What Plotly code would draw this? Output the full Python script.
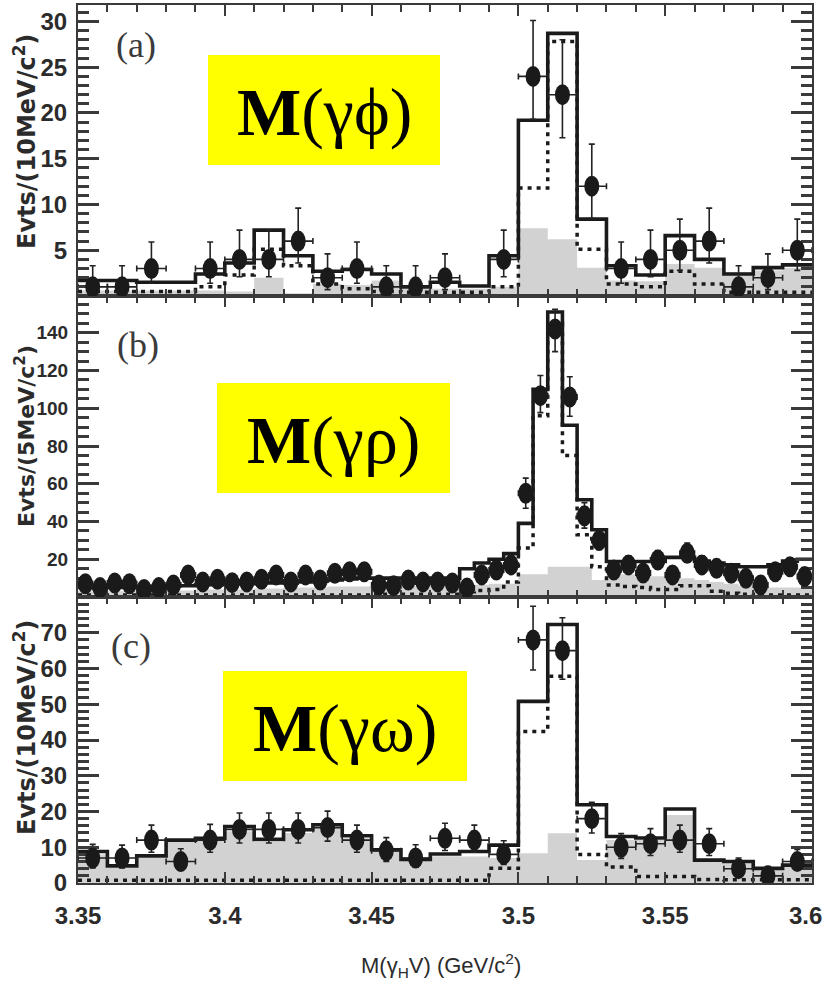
import numpy as np
import plotly.graph_objects as go

# ---------------- data ----------------
M_LO, M_HI = 3.35, 3.60

# (a) M(gamma phi), 10 MeV/c^2 bins
phi_data = [1, 1, 3, None, 3, 4, 4, 6, 2, 3, 1, 1, 2, None, 4, 24, 22, 12, 3, 4, 5, 6, 1, 2, 5]
phi_err_up = [2.3, 2.3, 2.9, None, 2.9, 3.2, 3.2, 3.6, 2.6, 2.9, 2.3, 2.3, 2.6, None, 3.2, 6.1, 6.0, 4.6, 2.9, 3.2, 3.4, 3.6, 2.3, 2.6, 3.4]
phi_err_dn = [0.8, 0.8, 1.6, None, 1.6, 1.9, 1.9, 2.4, 1.3, 1.6, 0.8, 0.8, 1.3, None, 1.9, 4.7, 4.7, 3.5, 1.6, 1.9, 2.2, 2.4, 0.8, 1.3, 2.2]
phi_total = [1.7, 1.7, 1.5, 1.5, 2.4, 3.6, 7.2, 4.4, 2.7, 2.9, 2.4, 1.0, 1.5, 1.1, 4.4, 19.2, 28.7, 8.4, 3.3, 2.3, 6.6, 4.0, 2.4, 3.1, 3.4]
phi_signal = [0.5, 0.5, 0.5, 0.5, 1.0, 2.3, 5.1, 3.3, 1.3, 0.8, 0.5, 0.4, 0.4, 0.4, 1.0, 11.8, 27.8, 5.1, 1.3, 1.0, 2.7, 1.3, 0.4, 0.4, 0.4]
phi_bkg = [0.6, 0.6, 0.6, 0.6, 0.6, 0.5, 2.0, 0.3, 1.3, 1.2, 1.7, 0.8, 0.8, 0.8, 1.0, 7.4, 6.2, 3.1, 1.7, 1.6, 3.5, 3.1, 2.6, 2.8, 3.1]

# (b) M(gamma rho), 5 MeV/c^2 bins
rho_data = [7, 5, 7.4, 7, 4, 5, 6.4, 11.7, 8, 9.4,
            7.6, 8, 9.4, 11.7, 8, 11.7, 9, 12.6, 13.4, 13.4,
            6.4, 6, 9, 8, 8, 7.4, 4.8, 11.7, 14.3, 17,
            55, 106.7, 142, 106, 43, 30, 14.3, 17, 12.7, 19.6,
            11.7, 23.2, 17, 15.2, 12.6, 9.9, 6.4, 13.4, 16, 10.8]
rho_err_up = [3.3, 2.8, 3.3, 3.3, 2.6, 2.8, 3.1, 4.0, 3.4, 3.7,
              3.3, 3.4, 3.7, 4.0, 3.4, 4.0, 3.6, 4.2, 4.3, 4.3,
              3.1, 3.0, 3.6, 3.4, 3.4, 3.3, 2.8, 4.0, 4.4, 4.8,
              8.0, 10.7, 10.4, 10.7, 7.0, 5.5, 4.4, 4.8, 4.2, 5.0,
              4.0, 5.4, 4.8, 4.6, 4.2, 3.7, 3.1, 4.3, 4.6, 3.9]
rho_err_dn = [2.6, 2.2, 2.7, 2.6, 2.0, 2.2, 2.5, 3.4, 2.8, 3.1,
              2.8, 2.8, 3.1, 3.4, 2.8, 3.4, 3.0, 3.5, 3.7, 3.7,
              2.5, 2.4, 3.0, 2.8, 2.8, 2.7, 2.2, 3.4, 3.8, 4.1,
              8.0, 9.0, 12.0, 10.2, 6.5, 5.0, 3.8, 4.1, 3.5, 4.4,
              3.4, 4.8, 4.1, 3.9, 3.5, 3.1, 2.5, 3.7, 4.0, 3.3]
rho_total = [5.0, 5.0, 5.0, 5.0, 5.5, 5.5, 6.0, 6.0, 6.5, 6.5,
             7.0, 7.0, 7.5, 7.5, 8.0, 8.0, 8.5, 9.0, 9.5, 10.0,
             10.0, 10.0, 10.0, 10.0, 10.0, 10.0, 15.0, 18.0, 20.0, 23.0,
             39.0, 110.0, 151.0, 91.0, 51.5, 35.6, 18.8, 18.8, 18.8, 18.8,
             21.0, 21.0, 19.0, 18.0, 17.0, 16.0, 16.0, 17.0, 19.0, 20.0]
rho_signal = [1.0] * 20 + [1.5, 1.5, 1.5, 1.5, 1.5, 1.5, 2.8, 3.5, 4.0, 8.0,
                           26.0, 96.0, 145.0, 75.0, 33.0, 16.0, 6.4, 5.5, 5.0, 4.0,
                           4.0, 6.0, 6.0, 3.0, 2.0, 1.5, 1.0, 1.0, 1.0, 1.0]
rho_bkg = [3.0, 3.0, 3.0, 3.0, 3.0, 3.5, 3.5, 3.5, 4.0, 4.0,
           4.0, 4.0, 4.5, 4.5, 5.0, 5.0, 5.0, 5.5, 5.5, 5.5,
           6.0, 6.0, 6.0, 6.0, 6.0, 6.0, 6.0, 6.5, 7.0, 7.0,
           12.0, 12.0, 16.0, 16.0, 16.0, 9.0, 12.0, 12.0, 12.0, 11.0,
           11.0, 10.0, 9.0, 8.0, 7.0, 6.0, 6.0, 5.0, 5.0, 5.0]

# (c) M(gamma omega), 10 MeV/c^2 bins
omega_data = [7, 7, 12, 6, 12, 15, 15, 15, 15.5, 12, 9, 7, 12.5, 12, 8, 68, 65, 18, 10, 11, 12, 11, 4, 2, 6]
omega_err_up = [3.8, 3.6, 4.2, 3.6, 4.4, 4.6, 4.6, 4.6, 4.6, 4.2, 3.7, 3.7, 4.2, 4.2, 3.8, 9.4, 9.2, 4.6, 3.8, 4.2, 4.2, 4.2, 3.0, 2.6, 3.4]
omega_err_dn = [2.8, 2.8, 3.4, 2.5, 3.4, 3.8, 3.8, 3.8, 3.8, 3.4, 3.0, 2.6, 3.4, 3.4, 2.8, 8.4, 8.0, 4.0, 3.1, 3.3, 3.4, 3.3, 2.0, 1.3, 2.4]
omega_total = [8.8, 4.8, 7.6, 12.0, 12.5, 15.8, 12.2, 14.9, 16.3, 13.2, 9.3, 6.6, 8.1, 8.8, 10.6, 50.8, 72.3, 21.9, 13.0, 12.6, 20.7, 6.4, 6.0, 4.1, 5.0]
omega_signal = [0.8] * 14 + [4.1, 42.4, 57.8, 8.0, 4.5, 1.8, 1.8, 1.0, 0.9, 0.9, 0.9]
omega_bkg = [8.0, 4.3, 7.0, 11.5, 12.0, 14.5, 11.5, 14.0, 15.5, 12.5, 8.8, 6.2, 7.5, 7.4, 7.0, 8.3, 13.9, 6.4, 12.0, 12.0, 19.0, 6.0, 5.5, 4.0, 4.5]

panel_labels = ["(a)", "(b)", "(c)"]
box_texts = ["<b>M</b>(γϕ)", "<b>M</b>(γρ)", "<b>M</b>(γω)"]
y_titles = ["Evts/(10MeV/c<sup>2</sup>)", "Evts/(5MeV/c<sup>2</sup>)", "Evts/(10MeV/c<sup>2</sup>)"]
x_ticks = [3.35, 3.40, 3.45, 3.50, 3.55, 3.60]
x_ticktext = ["3.35", "3.4", "3.45", "3.5", "3.55", "3.6"]
y_ticks = [[5, 10, 15, 20, 25, 30],
           [20, 40, 60, 80, 100, 120, 140],
           [0, 10, 20, 30, 40, 50, 60, 70]]
y_ranges = [[0, 31.8], [0, 159.5], [0, 80]]
y_minor = [1, 5, 2]
bin_widths = [0.010, 0.005, 0.010]

# ---------------- layout geometry ----------------
W, H = 825, 987
L, R, T, B = 78, 13, 5, 104
PW, PH = W - L - R, H - T - B


def px(xp):
    return (xp - L) / PW


def py(yp):
    return (H - B - yp) / PH


domains = [[py(296), 1.0], [py(597), py(296)], [0.0, py(597)]]

INK = "#1a1a1a"
AXC = "#3a3a3a"
GRAY = "#d2d2d2"
TICKFONT = dict(family="Liberation Sans Narrow, Liberation Sans, Arial", size=24, color="#2b2b2b", weight="bold")

fig = go.Figure()
shapes = []


def add_panel(k, data, eup, edn, total, signal, bkg):
    xa = "x" if k == 0 else f"x{k + 1}"
    ya = "y" if k == 0 else f"y{k + 1}"
    w = bin_widths[k]
    n = len(total)
    edges = np.round(M_LO + w * np.arange(n + 1), 4)
    centers = np.round(M_LO + w * (np.arange(n) + 0.5), 5)

    def step(vals):
        return list(edges), list(vals) + [vals[-1]]

    ex, ey = step(bkg)
    fig.add_trace(go.Scatter(x=ex, y=ey, mode="lines", line=dict(width=0, shape="hv", color=GRAY),
                             fill="tozeroy", fillcolor=GRAY, xaxis=xa, yaxis=ya, showlegend=False))
    ex, ey = step(signal)
    fig.add_trace(go.Scatter(x=ex, y=ey, mode="lines",
                             line=dict(width=3.5, shape="hv", color=INK, dash="4px,5px"),
                             xaxis=xa, yaxis=ya, showlegend=False))
    ex, ey = step(total)
    fig.add_trace(go.Scatter(x=ex, y=ey, mode="lines",
                             line=dict(width=3.6, shape="hv", color=INK),
                             xaxis=xa, yaxis=ya, showlegend=False))
    fig.add_trace(go.Scatter(
        x=list(centers), y=data, mode="markers",
        marker=dict(size=3, color=INK),
        error_y=dict(type="data", symmetric=False, array=eup, arrayminus=edn,
                     color="#222222", thickness=1.6, width=3),
        error_x=dict(type="constant", value=w / 2, color="#222222", thickness=1.6, width=3),
        xaxis=xa, yaxis=ya, showlegend=False))
    # elliptical data markers anchored at each measured point
    for xc, yv in zip(centers, data):
        if yv is None:
            continue
        shapes.append(dict(type="circle", xref=xa, yref=ya, xsizemode="pixel", ysizemode="pixel",
                           xanchor=float(xc), yanchor=yv, x0=-7.5, x1=7.5, y0=-10.5, y1=10.5,
                           fillcolor=INK, line=dict(width=0), layer="above"))


add_panel(0, phi_data, phi_err_up, phi_err_dn, phi_total, phi_signal, phi_bkg)
add_panel(1, rho_data, rho_err_up, rho_err_dn, rho_total, rho_signal, rho_bkg)
add_panel(2, omega_data, omega_err_up, omega_err_dn, omega_total, omega_signal, omega_bkg)

layout = dict(
    width=W, height=H,
    margin=dict(l=L, r=R, t=T, b=B, autoexpand=False),
    paper_bgcolor="white", plot_bgcolor="white",
    showlegend=False,
)

for k in range(3):
    xs = "xaxis" if k == 0 else f"xaxis{k + 1}"
    ys = "yaxis" if k == 0 else f"yaxis{k + 1}"
    ya = "y" if k == 0 else f"y{k + 1}"
    xa = "x" if k == 0 else f"x{k + 1}"
    layout[xs] = dict(
        range=[M_LO - 1e-5, M_HI + 1e-5], anchor=ya, domain=[0, 1], automargin=False,
        showline=True, linecolor=AXC, linewidth=2, mirror="ticks",
        ticks="inside", ticklen=11, tickwidth=2, tickcolor=AXC,
        tickmode="array", tickvals=x_ticks[:-1], ticktext=x_ticktext[:-1],
        showticklabels=(k == 2), tickfont=TICKFONT, ticklabelstandoff=10,
        minor=dict(ticks="inside", dtick=0.01, tick0=M_LO, ticklen=7, tickwidth=2, tickcolor=AXC),
        showgrid=False, zeroline=False,
    )
    if k != 0:
        layout[xs]["matches"] = "x"
    layout[ys] = dict(
        range=y_ranges[k], anchor=xa, domain=domains[k], automargin=False,
        showline=True, linecolor=AXC, linewidth=2, mirror="ticks",
        ticks="inside", ticklen=21, tickwidth=2.5, tickcolor=AXC,
        tickmode="array", tickvals=y_ticks[k],
        tickfont=dict(TICKFONT, size=24 if k != 1 else 19), ticklabelstandoff=4,
        minor=dict(ticks="inside", dtick=y_minor[k], tick0=0, ticklen=11, tickwidth=2.5, tickcolor=AXC),
        showgrid=False, zeroline=False,
    )

fig.update_layout(**layout)

annotations = []
# the right-most mass label sits flush with the page edge, so it is placed
# as an annotation on the bottom axis and nudged inward
annotations.append(dict(text=x_ticktext[-1], xref="x3", yref="paper", x=x_ticks[-1], y=py(915),
                        xanchor="right", yanchor="middle", xshift=12, showarrow=False,
                        font=TICKFONT))

# yellow label boxes
boxes = [(208, 440, 55, 165), (217, 450, 383, 493), (223, 467, 671, 781)]
for k, (x0, x1, y0, y1) in enumerate(boxes):
    shapes.append(dict(type="rect", xref="paper", yref="paper",
                       x0=px(x0), x1=px(x1), y0=py(y1), y1=py(y0),
                       fillcolor="#ffff00", line=dict(width=0), layer="above"))
    annotations.append(dict(text=box_texts[k], xref="paper", yref="paper",
                            x=px((x0 + x1) / 2), y=py((y0 + y1) / 2 + 2),
                            xanchor="center", yanchor="middle", showarrow=False,
                            font=dict(family="Liberation Serif, Times New Roman, serif", size=68, color="black")))

# panel letters
letter_pos = [(136, 45), (138, 345), (131, 646)]
for k, (xl, yl) in enumerate(letter_pos):
    annotations.append(dict(text=panel_labels[k], xref="paper", yref="paper",
                            x=px(xl), y=py(yl), xanchor="center", yanchor="middle", showarrow=False,
                            font=dict(family="Liberation Serif, Times New Roman, serif", size=36, color="#3b3b3b")))

# y-axis titles
ytitle_y = [142, 436, 728]
ytitle_size = [24, 22, 24]
for k in range(3):
    annotations.append(dict(text=y_titles[k], xref="paper", yref="paper",
                            x=px(25), y=py(ytitle_y[k]), xanchor="center", yanchor="middle",
                            textangle=-90, showarrow=False,
                            font=dict(family="DejaVu Sans", size=ytitle_size[k], color="#2b2b2b", weight="bold")))

# x-axis title
annotations.append(dict(text="M(γ<sub>H</sub>V) (GeV/c<sup>2</sup>)", xref="paper", yref="paper",
                        x=px(441), y=py(965), xanchor="center", yanchor="middle", showarrow=False,
                        font=dict(family="Liberation Sans Narrow, Liberation Sans, Arial", size=22, color="#2b2b2b")))

fig.update_layout(shapes=shapes, annotations=annotations)
fig.write_html("out.html")
